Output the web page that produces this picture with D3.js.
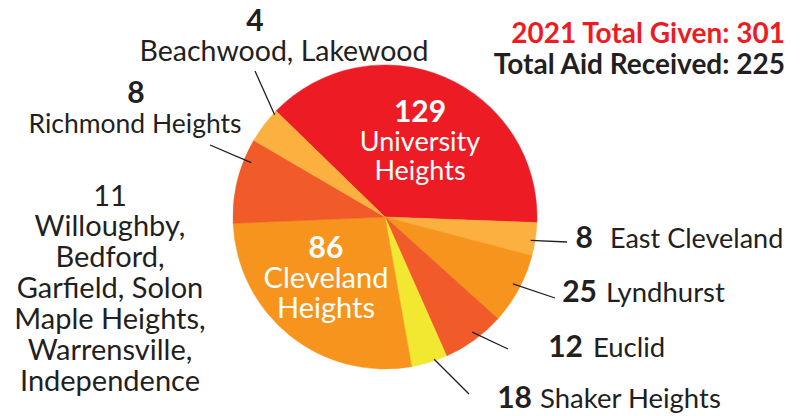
<!DOCTYPE html>
<html>
<head>
<meta charset="utf-8">
<script src="https://cdn.jsdelivr.net/npm/d3@7"></script>
<style>
  body { margin: 0; background: #fff; }
  text { font-family: Lato, "Noto Sans", sans-serif; fill: #231F20; }
</style>
</head>
<body>
<div id="chart"></div>
<script>
// labelled values (sum 301)
var names   = ["University Heights", "East Cleveland", "Lyndhurst", "Euclid", "Shaker Heights",
               "Cleveland Heights", "Richmond Heights", "Beachwood, Lakewood"];
var given   = [129, 8, 25, 12, 18, 86, 8, 4];
// slice sizes as drawn in the picture (degrees of the circle)
var drawnDeg = [137.9, 12.7, 27.2, 24.1, 13.8, 97.7, 32.7, 13.9];
var colors  = ["#ED1C24", "#FBB040", "#F7941D", "#F15A29", "#F2E831", "#F7941D", "#F15A29", "#FBB040"];
var otherCount = 11;
var otherNames = ["Willoughby,", "Bedford,", "Garfield, Solon", "Maple Heights,", "Warrensville,", "Independence"];
var totalGiven = 301, totalAid = 225;

var width = 804, height = 416;
var cx = 385, cy = 217, r = 152;

var svg = d3.select("#chart").append("svg")
    .attr("width", width)
    .attr("height", height);

var pie = d3.pie()
    .sort(null)
    .value(function(d){ return d; })
    .startAngle(-45.8 * Math.PI / 180)
    .endAngle((360 - 45.8) * Math.PI / 180);

var arcs = pie(drawnDeg);
var arc = d3.arc().innerRadius(0).outerRadius(r);

var g = svg.append("g").attr("transform", "translate(" + cx + "," + cy + ")");

g.selectAll("path")
  .data(arcs)
  .enter()
  .append("path")
    .attr("d", arc)
    .attr("fill", function(d, i){ return colors[i]; })
    .attr("stroke", function(d, i){ return colors[i]; })
    .attr("stroke-width", 0.5);

// point on the rim inside slice i, t = fraction across the slice
function rim(i, t, k) {
  var a = arcs[i].startAngle + (arcs[i].endAngle - arcs[i].startAngle) * t;
  return [cx + Math.sin(a) * r * k, cy - Math.cos(a) * r * k];
}

// leader lines: slice index, fraction, outer end
var leaders = [
  { i: 7, t: 0.9,  k: 0.99, x: 255, y: 71 },
  { i: 6, t: 0.75, k: 0.95, x: 210, y: 145 },
  { i: 1, t: 0.55, k: 0.97, x: 567, y: 242 },
  { i: 2, t: 0.47, k: 0.95, x: 555, y: 298 },
  { i: 3, t: 0.45, k: 0.95, x: 508, y: 349 },
  { i: 4, t: 0.35, k: 0.99, x: 469, y: 394 }
];

svg.selectAll("line.leader")
  .data(leaders)
  .enter()
  .append("line")
    .attr("class", "leader")
    .attr("x1", function(d){ return rim(d.i, d.t, d.k)[0]; })
    .attr("y1", function(d){ return rim(d.i, d.t, d.k)[1]; })
    .attr("x2", function(d){ return d.x; })
    .attr("y2", function(d){ return d.y; })
    .attr("stroke", "#231F20")
    .attr("stroke-width", 1.3);

// inner labels
function inner(x, y, lines, size, step) {
  var t = svg.append("text")
    .attr("text-anchor", "middle")
    .style("fill", "#fff");
  lines.forEach(function(l, j){
    t.append("tspan")
      .attr("x", x)
      .attr("y", y + j * step)
      .style("font-size", j == 0 ? "30px" : size)
      .style("font-weight", j == 0 ? 700 : 400)
      .style("fill", "#fff")
      .text(l);
  });
}
inner(420, 122, [given[0], "University", "Heights"], "27px", 29);
inner(326, 258, [given[5], "Cleveland", "Heights"], "29px", 30);

// right side labels: number then name
var right = [
  { i: 1, nx: 593, tx: 610, y: 248, fs: "27px" },
  { i: 2, nx: 597, tx: 606, y: 302, fs: "27.5px" },
  { i: 3, nx: 583, tx: 593, y: 357, fs: "27.5px" },
  { i: 4, nx: 532, tx: 540, y: 408, fs: "27.5px" }
];
right.forEach(function(d){
  svg.append("text")
    .attr("x", d.nx).attr("y", d.y)
    .attr("text-anchor", "end")
    .style("font-size", "30px").style("font-weight", 700)
    .text(given[d.i]);
  svg.append("text")
    .attr("x", d.tx).attr("y", d.y)
    .style("font-size", d.fs)
    .text(names[d.i]);
});

// upper left labels
svg.append("text").attr("x", 255).attr("y", 31).attr("text-anchor", "middle")
  .style("font-size", "30px").style("font-weight", 700).text(given[7]);
svg.append("text").attr("x", 284).attr("y", 61).attr("text-anchor", "middle")
  .style("font-size", "28.5px").text(names[7]);
svg.append("text").attr("x", 136).attr("y", 103).attr("text-anchor", "middle")
  .style("font-size", "30px").style("font-weight", 700).text(given[6]);
svg.append("text").attr("x", 135).attr("y", 133).attr("text-anchor", "middle")
  .style("font-size", "26.5px").text(names[6]);

// grouped towns without a leader
var other = svg.append("text").attr("text-anchor", "middle").style("font-size", "29px");
[String(otherCount)].concat(otherNames).forEach(function(l, j){
  other.append("tspan").attr("x", 110).attr("y", 205.5 + j * 30.9).text(l);
});

// totals
svg.append("text").attr("x", 785).attr("y", 43).attr("text-anchor", "end")
  .style("font-size", "28px").style("font-weight", 700).style("fill", "#ED1C24")
  .text("2021 Total Given: " + totalGiven);
svg.append("text").attr("x", 785).attr("y", 74).attr("text-anchor", "end")
  .style("font-size", "28px").style("font-weight", 700)
  .text("Total Aid Received: " + totalAid);
</script>
</body>
</html>
